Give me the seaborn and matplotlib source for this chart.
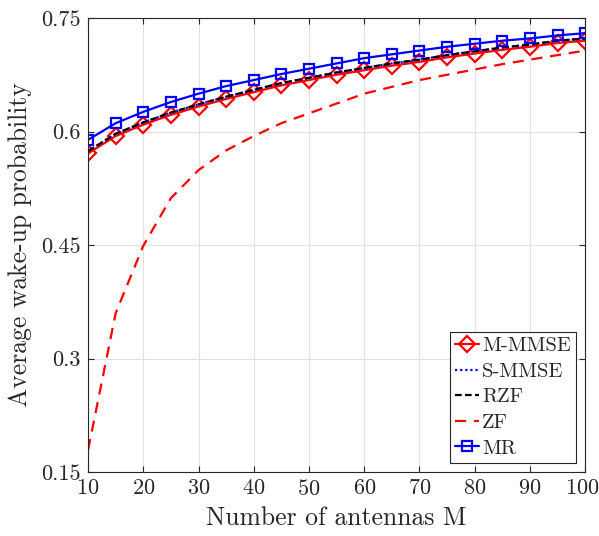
"""Average wake-up probability versus number of antennas."""

import numpy as np
import pandas as pd
import matplotlib
matplotlib.use("Agg")
import matplotlib.pyplot as plt
from matplotlib.transforms import ScaledTranslation
import seaborn as sns

# data
antennas = [10, 15, 20, 25, 30, 35, 40, 45, 50, 55, 60, 65, 70, 75, 80, 85, 90, 95, 100]
m_mmse = [0.571, 0.594, 0.609, 0.622, 0.633, 0.643, 0.652, 0.661, 0.668, 0.675,
          0.681, 0.687, 0.692, 0.698, 0.703, 0.708, 0.712, 0.717, 0.720]
s_mmse = [0.574, 0.597, 0.612, 0.625, 0.636, 0.646, 0.655, 0.664, 0.671, 0.678,
          0.684, 0.690, 0.695, 0.701, 0.706, 0.711, 0.715, 0.720, 0.723]
rzf = [0.574, 0.597, 0.612, 0.625, 0.636, 0.646, 0.655, 0.664, 0.671, 0.678,
       0.684, 0.690, 0.695, 0.701, 0.706, 0.711, 0.715, 0.720, 0.723]
zf = [0.179, 0.360, 0.449, 0.512, 0.549, 0.575, 0.594, 0.611, 0.624, 0.637,
      0.650, 0.659, 0.668, 0.675, 0.682, 0.689, 0.695, 0.701, 0.707]
mr = [0.589, 0.611, 0.626, 0.639, 0.650, 0.660, 0.668, 0.676, 0.683, 0.690,
      0.697, 0.702, 0.707, 0.712, 0.716, 0.720, 0.723, 0.727, 0.730]

x_ticks = [10, 20, 30, 40, 50, 60, 70, 80, 90, 100]
y_ticks = [0.15, 0.3, 0.45, 0.6, 0.75]
y_ticklabels = ["0.15", "0.3", "0.45", "0.6", "0.75"]

sns.set_style("ticks")
plt.rcParams["font.family"] = "serif"
plt.rcParams["font.serif"] = ["cmr10", "DejaVu Serif"]
plt.rcParams["mathtext.fontset"] = "cm"
plt.rcParams["axes.formatter.use_mathtext"] = True

fig = plt.figure(figsize=(5.99, 5.36), dpi=100)
ax = fig.add_axes([0.147, 0.1194, 0.83, 0.847])

# name, values, colour, dash pattern, marker, marker size
styles = [
    ("M-MMSE", m_mmse, "red", "-", "D", 8.3),
    ("S-MMSE", s_mmse, "blue", (0, (1, 1.3)), None, 0),
    ("RZF", rzf, "black", (0, (3, 1.5)), None, 0),
    ("ZF", zf, "red", (0, (5, 3.5)), None, 0),
    ("MR", mr, "blue", "-", "s", 7.0),
]
for name, values, color, ls, marker, ms in styles:
    sns.lineplot(x=antennas, y=values, ax=ax, label=name, color=color,
                 linewidth=1.6)
    line = ax.lines[-1]
    line.set_linestyle(ls)
    if marker:
        line.set_marker(marker)
        line.set_markersize(ms)
        line.set_markerfacecolor("none")
        line.set_markeredgecolor(color)
        line.set_markeredgewidth(1.6)

ax.set_xlim(10, 100)
ax.set_ylim(0.15, 0.75)
ax.set_xticks(x_ticks)
ax.set_yticks(y_ticks)
ax.set_yticklabels(y_ticklabels)
ax.grid(True, color="#e0e0e0", linewidth=0.8)
ax.set_axisbelow(True)
ax.tick_params(direction="in", top=True, right=True, labelsize=16,
               color="#262626", length=4, pad=5)
for side in ax.spines.values():
    side.set_color("#262626")
    side.set_linewidth(0.8)
ax.set_xlabel("Number of antennas M", fontsize=18.5, labelpad=5)
ax.set_ylabel("Average wake-up probability", fontsize=18.5, labelpad=7)

# keep the "100" label inside the canvas
last = ax.get_xticklabels()[-1]
last.set_transform(last.get_transform()
                   + ScaledTranslation(-3 / 100, 0, fig.dpi_scale_trans))

leg = ax.legend(loc="lower right", fontsize=14.8, frameon=True, fancybox=False,
                edgecolor="#262626", framealpha=1, handlelength=1.15,
                handletextpad=0.15, borderpad=0.25, labelspacing=0.35,
                borderaxespad=0.45)
leg.get_frame().set_linewidth(0.8)

fig.savefig("out.png", dpi=100)
